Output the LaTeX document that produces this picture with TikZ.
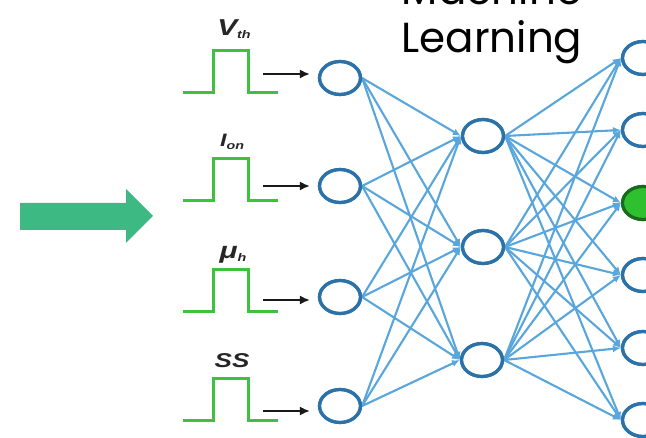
\documentclass[tikz,border=0pt]{standalone}
\usepackage{fontspec}
\setmainfont{Liberation Sans}
\newfontfamily\mlfont{Poppins}
\newfontfamily\labfont[FakeStretch=1.3]{Liberation Sans}
\usetikzlibrary{shapes.geometric,arrows.meta}
\definecolor{linkblue}{HTML}{58A6DC}
\definecolor{nodeblue}{HTML}{2B72A8}
\definecolor{pulsegreen}{HTML}{3CC23C}
\definecolor{arrowgreen}{HTML}{3DBA84}
\definecolor{fillgreen}{HTML}{2EC02E}
\newcommand{\sbs}[1]{{\fontsize{11}{11}\selectfont\raisebox{-3pt}{#1}}}
\tikzset{
  neuron/.style={ellipse,draw=nodeblue,line width=3.2pt,fill=white,inner sep=0pt,minimum width=41pt,minimum height=33pt},
  ring/.style={draw=nodeblue,line width=3.2pt},
  conn/.style={draw=linkblue,line width=2.1pt,-{Latex[length=8pt,width=7pt]}},
  pulse/.style={draw=pulsegreen,line width=3pt,line join=miter},
  feed/.style={draw=black!90,line width=1.8pt,-{Latex[length=10pt,width=9pt]}},
  lab/.style={anchor=base,inner sep=0pt,font=\labfont\fontsize{23}{24}\selectfont\bfseries\itshape,text=black!85}
}
\begin{document}
\begin{tikzpicture}[x=1pt,y=-1pt]
\useasboundingbox (0,0) rectangle (646,438);
\clip (0,0) rectangle (646,438);
% big green arrow
\fill[arrowgreen] (20,203) -- (126,203) -- (126,189) -- (153,216) -- (126,243) -- (126,230) -- (20,230) -- cycle;
% title
\node[font=\fontsize{42}{48}\selectfont\mlfont,anchor=base,align=center,inner sep=0pt] (title) at (492,53) {Machine\\Learning};
% input neurons
\node[neuron] (in1) at (340,78) {};
\node[neuron] (in2) at (340,186) {};
\node[neuron] (in3) at (340,297) {};
\node[neuron] (in4) at (340,406) {};
% hidden
\node[neuron] (h1) at (483,136) {};
\node[neuron] (h2) at (483,247) {};
\node[neuron] (h3) at (482,360) {};
% outputs
\node[neuron] (o1) at (643,58) {};
\node[neuron] (o2) at (643,130) {};
\node[neuron] (o3) at (643,203) {};
\node[neuron] (o4) at (643,275) {};
\node[neuron] (o5) at (643,348) {};
\node[neuron] (o6) at (643,420) {};
% connections
\foreach \i in {1,...,4}{\foreach \j in {1,2,3}{\draw[conn] (in\i.east) -- (h\j.west);}}
\foreach \j in {1,2,3}{\foreach \k in {1,...,6}{\draw[conn] (h\j.east) -- (o\k.west);}}
% redraw neurons over lines
\foreach \n in {in1,in2,in3,in4,h1,h2,h3,o1,o2,o4,o5,o6}{\draw[ring] (\n) ellipse [x radius=20.5pt,y radius=16.5pt];}
\filldraw[fill=fillgreen,draw=fillgreen!55!black,line width=3.2pt] (o3) ellipse [x radius=20.5pt,y radius=16.5pt];
% pulses
\foreach \y in {78,186,297,406}{
  \draw[pulse] (183,\y+15) -- (213,\y+15) -- (213,\y-27) -- (248,\y-27) -- (248,\y+15) -- (278,\y+15);
}
% feed arrows
\coordinate (f1) at (263,74);
\coordinate (f2) at (263,186);
\coordinate (f3) at (263,300);
\coordinate (f4) at (263,411);
\draw[feed] (f1) -- ([xshift=-8pt]f1 -| in1.west);
\draw[feed] (f2) -- ([xshift=-8pt]f2 -| in2.west);
\draw[feed] (f3) -- ([xshift=-8pt]f3 -| in3.west);
\draw[feed] (f4) -- ([xshift=-8pt]f4 -| in4.west);
% labels
\node[lab] (l1) at (234,36) {V\sbs{th}};
\node[lab,font=\labfont\fontsize{18}{19}\selectfont\bfseries\itshape] (l2) at (232,147) {I\sbs{on}};
\node[lab] (l3) at (233,259) {μ\sbs{h}};
\node[lab,font=\labfont\fontsize{20}{21}\selectfont\bfseries\itshape] (l4) at (232,368) {SS};
\end{tikzpicture}
\end{document}
